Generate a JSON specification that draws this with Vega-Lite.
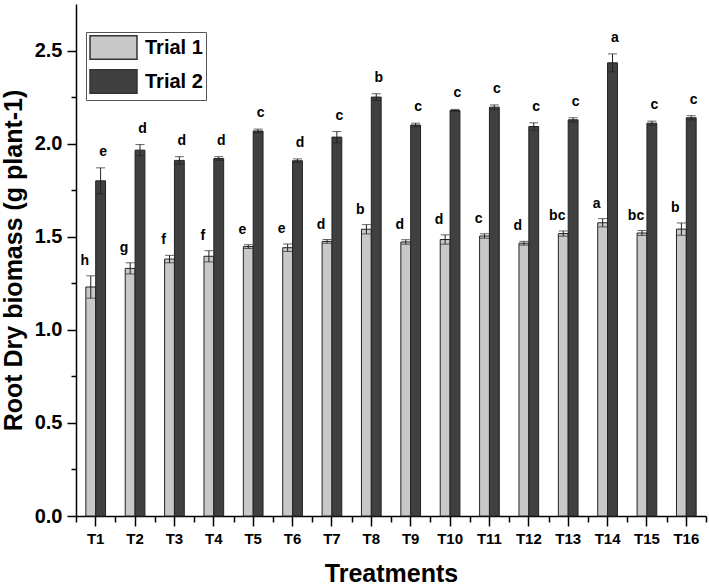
{
  "$schema": "https://vega.github.io/schema/vega-lite/v6.json",
  "autosize": "none",
  "width": 630,
  "height": 512,
  "padding": {"left": 76, "top": 4, "right": 3, "bottom": 71},
  "background": "white",
  "config": {
    "view": {"stroke": null},
    "font": "Liberation Sans",
    "axisX": {"domainColor": "#000", "domainWidth": 1.5, "tickColor": "#000", "tickWidth": 1.5, "labelFont": "Liberation Sans", "labelFontWeight": "bold", "labelFontSize": 15, "labelColor": "#000", "titleFont": "Liberation Sans", "titleFontWeight": "bold", "titleColor": "#000", "grid": false},
    "axisY": {"domainColor": "#000", "domainWidth": 1.5, "tickColor": "#000", "tickWidth": 1.5, "labelFont": "Liberation Sans", "labelFontWeight": "bold", "labelFontSize": 20, "labelColor": "#000", "titleFont": "Liberation Sans", "titleFontWeight": "bold", "titleFontSize": 25, "titleColor": "#000", "titlePadding": 8, "labelPadding": 5, "grid": false, "labelOverlap": false}
  },
  "data": {"values": [
    {"t": "T1", "trial": "Trial 1", "value": 1.23, "lo": 1.17, "hi": 1.29, "letter": "h"},
    {"t": "T1", "trial": "Trial 2", "value": 1.80, "lo": 1.73, "hi": 1.87, "letter": "e"},
    {"t": "T2", "trial": "Trial 1", "value": 1.33, "lo": 1.30, "hi": 1.36, "letter": "g"},
    {"t": "T2", "trial": "Trial 2", "value": 1.965, "lo": 1.935, "hi": 1.995, "letter": "d"},
    {"t": "T3", "trial": "Trial 1", "value": 1.38, "lo": 1.36, "hi": 1.40, "letter": "f"},
    {"t": "T3", "trial": "Trial 2", "value": 1.91, "lo": 1.89, "hi": 1.93, "letter": "d"},
    {"t": "T4", "trial": "Trial 1", "value": 1.395, "lo": 1.365, "hi": 1.425, "letter": "f"},
    {"t": "T4", "trial": "Trial 2", "value": 1.92, "lo": 1.91, "hi": 1.93, "letter": "d"},
    {"t": "T5", "trial": "Trial 1", "value": 1.447, "lo": 1.437, "hi": 1.457, "letter": "e"},
    {"t": "T5", "trial": "Trial 2", "value": 2.068, "lo": 2.058, "hi": 2.078, "letter": "c"},
    {"t": "T6", "trial": "Trial 1", "value": 1.441, "lo": 1.421, "hi": 1.461, "letter": "e"},
    {"t": "T6", "trial": "Trial 2", "value": 1.908, "lo": 1.898, "hi": 1.918, "letter": "d"},
    {"t": "T7", "trial": "Trial 1", "value": 1.475, "lo": 1.465, "hi": 1.485, "letter": "d"},
    {"t": "T7", "trial": "Trial 2", "value": 2.035, "lo": 2.005, "hi": 2.065, "letter": "c"},
    {"t": "T8", "trial": "Trial 1", "value": 1.54, "lo": 1.515, "hi": 1.565, "letter": "b"},
    {"t": "T8", "trial": "Trial 2", "value": 2.25, "lo": 2.232, "hi": 2.268, "letter": "b"},
    {"t": "T9", "trial": "Trial 1", "value": 1.472, "lo": 1.46, "hi": 1.484, "letter": "d"},
    {"t": "T9", "trial": "Trial 2", "value": 2.10, "lo": 2.09, "hi": 2.11, "letter": "c"},
    {"t": "T10", "trial": "Trial 1", "value": 1.485, "lo": 1.46, "hi": 1.51, "letter": "d"},
    {"t": "T10", "trial": "Trial 2", "value": 2.178, "lo": 2.172, "hi": 2.184, "letter": "c"},
    {"t": "T11", "trial": "Trial 1", "value": 1.504, "lo": 1.492, "hi": 1.516, "letter": "c"},
    {"t": "T11", "trial": "Trial 2", "value": 2.196, "lo": 2.184, "hi": 2.208, "letter": "c"},
    {"t": "T12", "trial": "Trial 1", "value": 1.465, "lo": 1.455, "hi": 1.475, "letter": "d"},
    {"t": "T12", "trial": "Trial 2", "value": 2.092, "lo": 2.072, "hi": 2.112, "letter": "c"},
    {"t": "T13", "trial": "Trial 1", "value": 1.517, "lo": 1.503, "hi": 1.531, "letter": "bc"},
    {"t": "T13", "trial": "Trial 2", "value": 2.128, "lo": 2.117, "hi": 2.139, "letter": "c"},
    {"t": "T14", "trial": "Trial 1", "value": 1.575, "lo": 1.553, "hi": 1.597, "letter": "a"},
    {"t": "T14", "trial": "Trial 2", "value": 2.434, "lo": 2.386, "hi": 2.482, "letter": "a"},
    {"t": "T15", "trial": "Trial 1", "value": 1.52, "lo": 1.507, "hi": 1.533, "letter": "bc"},
    {"t": "T15", "trial": "Trial 2", "value": 2.11, "lo": 2.099, "hi": 2.121, "letter": "c"},
    {"t": "T16", "trial": "Trial 1", "value": 1.541, "lo": 1.508, "hi": 1.574, "letter": "b"},
    {"t": "T16", "trial": "Trial 2", "value": 2.139, "lo": 2.128, "hi": 2.15, "letter": "c"}
  ]},
  "resolve": {"axis": {"x": "independent", "y": "independent"}},
  "layer": [
    {
      "mark": {"type": "bar", "stroke": "#222", "strokeWidth": 1},
      "encoding": {
        "x": {"field": "t", "type": "nominal", "sort": null,
          "scale": {"paddingInner": 0, "paddingOuter": 0},
          "axis": {"orient": "bottom", "labelAngle": 0, "tickSize": 10, "labelPadding": 5, "title": "Treatments", "titleFontSize": 25, "titlePadding": 15}},
        "xOffset": {"field": "trial", "type": "nominal", "scale": {"paddingInner": 0, "paddingOuter": 1.45}},
        "y": {"field": "value", "type": "quantitative", "scale": {"domain": [0, 2.75], "nice": false, "zero": true},
          "axis": {"orient": "left", "values": [0, 0.5, 1, 1.5, 2, 2.5], "format": ".1f", "tickSize": 9, "labelOverlap": false, "title": "Root Dry biomass (g plant-1)"}},
        "color": {"field": "trial", "type": "nominal",
          "scale": {"domain": ["Trial 1", "Trial 2"], "range": ["#c8c8c8", "#404040"]},
          "legend": {"title": null, "orient": "none", "legendX": 10, "legendY": 28,
            "symbolType": "M-2,-1H2V1H-2Z", "symbolSize": 552, "symbolOffset": 12, "symbolStrokeColor": "#333", "symbolStrokeWidth": 1.5, "symbolOpacity": 1,
            "labelFont": "Liberation Sans", "labelFontWeight": "bold", "labelFontSize": 20, "labelColor": "#000", "labelOffset": 19,
            "strokeColor": "#555", "padding": 3, "rowPadding": 3}}
      }
    },
    {
      "mark": {"type": "rule", "color": "#222", "strokeWidth": 1},
      "encoding": {
        "x": {"field": "t", "type": "nominal", "sort": null, "axis": null},
        "xOffset": {"field": "trial", "type": "nominal"},
        "y": {"field": "lo", "type": "quantitative", "axis": null},
        "y2": {"field": "hi"}
      }
    },
    {
      "mark": {"type": "tick", "color": "#222", "thickness": 1, "size": 9, "orient": "horizontal"},
      "encoding": {
        "x": {"field": "t", "type": "nominal", "sort": null, "axis": null},
        "xOffset": {"field": "trial", "type": "nominal"},
        "y": {"field": "hi", "type": "quantitative", "axis": null}
      }
    },
    {
      "mark": {"type": "tick", "color": "#222", "thickness": 1, "size": 9, "orient": "horizontal"},
      "encoding": {
        "x": {"field": "t", "type": "nominal", "sort": null,
          "axis": {"orient": "bottom", "tickBand": "extent", "tickSize": 6, "labels": false, "domain": false, "title": null}},
        "xOffset": {"field": "trial", "type": "nominal"},
        "y": {"field": "lo", "type": "quantitative",
          "axis": {"orient": "left", "values": [0.25, 0.75, 1.25, 1.75, 2.25], "tickSize": 5, "labels": false, "domain": false, "title": null}}
      }
    },
    {
      "transform": [{"filter": "datum.trial === 'Trial 1'"}],
      "mark": {"type": "text", "font": "Liberation Sans", "fontWeight": "bold", "fontSize": 14, "color": "#000", "baseline": "alphabetic", "dy": -11, "dx": -6},
      "encoding": {
        "x": {"field": "t", "type": "nominal", "sort": null, "axis": null},
        "xOffset": {"field": "trial", "type": "nominal"},
        "y": {"field": "hi", "type": "quantitative", "axis": null},
        "text": {"field": "letter"}
      }
    },
    {
      "transform": [{"filter": "datum.trial === 'Trial 2'"}],
      "mark": {"type": "text", "font": "Liberation Sans", "fontWeight": "bold", "fontSize": 14, "color": "#000", "baseline": "alphabetic", "dy": -12, "dx": 2.5},
      "encoding": {
        "x": {"field": "t", "type": "nominal", "sort": null, "axis": null},
        "xOffset": {"field": "trial", "type": "nominal"},
        "y": {"field": "hi", "type": "quantitative", "axis": null},
        "text": {"field": "letter"}
      }
    }
  ]
}
